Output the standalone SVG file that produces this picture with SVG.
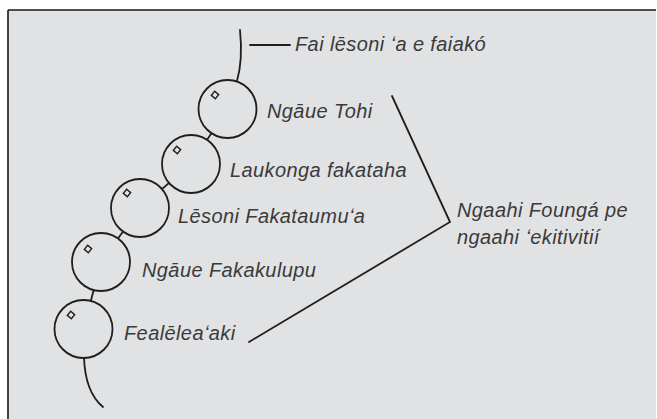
<svg xmlns="http://www.w3.org/2000/svg" width="657" height="419" viewBox="0 0 657 419">
  <style>
    .ln { fill: none; stroke: #1e1e1e; stroke-width: 1.8; stroke-linecap: round; }
    .bead { fill: #e1e2e4; stroke: #1e1e1e; stroke-width: 1.8; }
    .mark { fill: none; stroke: #1e1e1e; stroke-width: 1.4; }
    .lbl { font-family: "Liberation Sans", Arial, sans-serif; font-style: italic; font-size: 20px; letter-spacing: 0.4px; fill: #3a3a3a; }
  </style>
  <defs>
    <rect id="dia" x="-2.6" y="-2.6" width="5.2" height="5.2" transform="rotate(40)"/>
  </defs>
  <rect x="0" y="0" width="657" height="419" fill="#ffffff"/>
  <rect x="8" y="10" width="648" height="412" fill="#e1e2e4"/>
  <path d="M8,10 H656 M8,10 V419" fill="none" stroke="#1a1a1a" stroke-width="1.6"/>

  <g id="connectors">
    <path class="ln" d="M240,30 Q243,60 237,81"/>
    <path class="ln" d="M250,45 H290"/>
    <path class="ln" d="M227.5,109 L191,164 L140,208 L101,262 L83.5,329"/>
    <path class="ln" d="M84,357 Q85,392 103,407"/>
    <path class="ln" d="M392,96 L450,222 L249,342"/>
  </g>

  <g id="bead1">
    <circle class="bead" cx="227.5" cy="109" r="29"/>
    <use href="#dia" class="mark" transform="translate(215,95)"/>
  </g>
  <g id="bead2">
    <circle class="bead" cx="191" cy="164" r="29"/>
    <use href="#dia" class="mark" transform="translate(177,150)"/>
  </g>
  <g id="bead3">
    <circle class="bead" cx="140" cy="208" r="29"/>
    <use href="#dia" class="mark" transform="translate(127,193)"/>
  </g>
  <g id="bead4">
    <circle class="bead" cx="101" cy="262" r="29"/>
    <use href="#dia" class="mark" transform="translate(88,249)"/>
  </g>
  <g id="bead5">
    <circle class="bead" cx="83.5" cy="329" r="29"/>
    <use href="#dia" class="mark" transform="translate(71,315)"/>
  </g>

  <g id="labels">
    <text class="lbl" x="295" y="51">Fai lēsoni ʻa e faiakó</text>
    <text class="lbl" x="267" y="118">Ngāue Tohi</text>
    <text class="lbl" x="230" y="177">Laukonga fakataha</text>
    <text class="lbl" x="178" y="223">Lēsoni Fakataumuʻa</text>
    <text class="lbl" x="142" y="277">Ngāue Fakakulupu</text>
    <text class="lbl" x="124" y="340">Fealēleaʻaki</text>
    <text class="lbl" x="457" y="217">Ngaahi Foungá pe</text>
    <text class="lbl" x="457" y="244">ngaahi ʻekitivitií</text>
  </g>
</svg>
